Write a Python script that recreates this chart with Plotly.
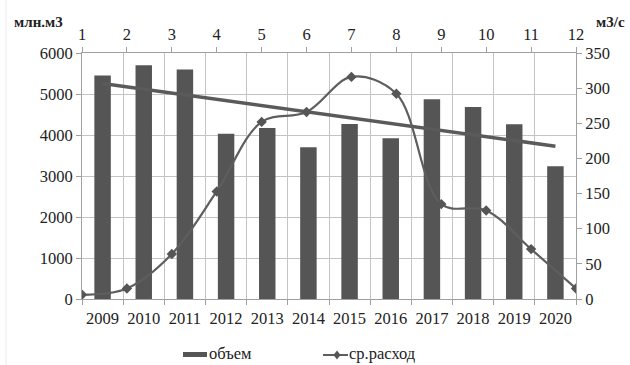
import numpy as np
import plotly.graph_objects as go

years = ["2009", "2010", "2011", "2012", "2013", "2014", "2015", "2016", "2017", "2018", "2019", "2020"]
volume = [5450, 5700, 5600, 4030, 4170, 3700, 4270, 3920, 4870, 4680, 4260, 3240]
months_idx = [1, 2, 3, 4, 5, 6, 7, 8, 9, 10, 11, 12]
avg_flow = [6, 15, 64, 153, 252, 266, 316, 292, 135, 126, 71, 15]

# linear trendline of the volume series (as in the original chart)
xi = np.arange(len(volume))
k, b = np.polyfit(xi, volume, 1)
trend = list(k * xi + b)

FONT = "Liberation Serif, Times New Roman, serif"
DARK = "#555555"
GRID = "#c4c4c4"
AXIS = "#a0a0a0"
TXT = "#222222"
FS = 16.5

PLOT_L, PLOT_T, PLOT_W, PLOT_H = 82, 53, 494, 246


def px(x):
    return (x - PLOT_L) / PLOT_W


def py(y):
    return (PLOT_T + PLOT_H - y) / PLOT_H


fig = go.Figure()
fig.add_trace(go.Bar(x=years, y=volume, name="объем", width=0.4,
                     marker=dict(color=DARK, line=dict(width=0)),
                     xaxis="x", yaxis="y"))
fig.add_trace(go.Scatter(x=years, y=trend, mode="lines", showlegend=False,
                         line=dict(color="#5a5a5a", width=3.5),
                         xaxis="x", yaxis="y", hoverinfo="skip"))
fig.add_trace(go.Scatter(x=months_idx, y=avg_flow, name="ср.расход",
                         mode="lines+markers",
                         line=dict(color="#5e5e5e", width=2.2, shape="spline", smoothing=1.0),
                         marker=dict(symbol="diamond", size=8, color="#555555"),
                         xaxis="x2", yaxis="y2"))

fig.update_layout(
    width=630, height=365,
    margin=dict(l=82, r=630 - PLOT_L - PLOT_W, t=PLOT_T, b=365 - PLOT_T - PLOT_H),
    paper_bgcolor="white", plot_bgcolor="white",
    font=dict(family=FONT, size=FS, color=TXT),
    showlegend=False,
    xaxis=dict(type="category", showgrid=True, gridcolor=GRID, gridwidth=1,
               tickson="boundaries", ticks="outside", ticklen=5, tickcolor=AXIS,
               showline=True, linecolor=AXIS, linewidth=1, zeroline=False,
               tickangle=0, ticklabelstandoff=4,
               tickfont=dict(family=FONT, size=FS, color=TXT)),
    xaxis2=dict(overlaying="x", side="top", anchor="y", range=[1, 12],
                tickmode="array", tickvals=months_idx, ticks="outside",
                ticklen=5, tickcolor=AXIS, showline=True, linecolor=AXIS,
                showgrid=False, zeroline=False, tickangle=0,
                tickfont=dict(family=FONT, size=FS, color=TXT)),
    yaxis=dict(range=[0, 6000], dtick=1000, showgrid=True, gridcolor=GRID,
               ticks="outside", ticklen=5, tickcolor=AXIS, showline=True,
               linecolor=AXIS, zeroline=False,
               tickfont=dict(family=FONT, size=FS, color=TXT)),
    yaxis2=dict(overlaying="y", side="right", anchor="x", range=[0, 350], dtick=50,
                showgrid=False, ticks="outside", ticklen=5, tickcolor=AXIS,
                showline=True, linecolor=AXIS, zeroline=False,
                tickfont=dict(family=FONT, size=FS, color=TXT)),
    annotations=[
        dict(text="<b>млн.м3</b>", xref="paper", yref="paper", x=px(12), y=py(22),
             xanchor="left", yanchor="middle", showarrow=False,
             font=dict(family=FONT, size=15, color=TXT)),
        dict(text="<b>м3/с</b>", xref="paper", yref="paper", x=px(594), y=py(22),
             xanchor="left", yanchor="middle", showarrow=False,
             font=dict(family=FONT, size=15, color=TXT)),
        # legend texts
        dict(text="объем", xref="paper", yref="paper", x=px(207), y=py(353),
             xanchor="left", yanchor="middle", showarrow=False,
             font=dict(family=FONT, size=16.5, color=TXT)),
        dict(text="ср.расход", xref="paper", yref="paper", x=px(347), y=py(353),
             xanchor="left", yanchor="middle", showarrow=False,
             font=dict(family=FONT, size=16.5, color=TXT)),
    ],
    shapes=[
        dict(type="line", xref="paper", yref="paper", x0=px(6), x1=px(6),
             y0=py(365), y1=py(0), line=dict(color="#ececec", width=1)),
        # legend swatches
        dict(type="rect", xref="paper", yref="paper", x0=px(183), x1=px(207),
             y0=py(357), y1=py(352), fillcolor=DARK, line=dict(width=0)),
        dict(type="line", xref="paper", yref="paper", x0=px(323), x1=px(348),
             y0=py(355), y1=py(355), line=dict(color="#5e5e5e", width=2)),
        dict(type="path", xref="paper", yref="paper", xsizemode="pixel", ysizemode="pixel",
             xanchor=px(337), yanchor=py(355), path="M0,4.5 L3.5,0 L0,-4.5 L-3.5,0 Z",
             fillcolor="#555555", line=dict(width=0)),
    ],
)

fig.write_html("out.html")
